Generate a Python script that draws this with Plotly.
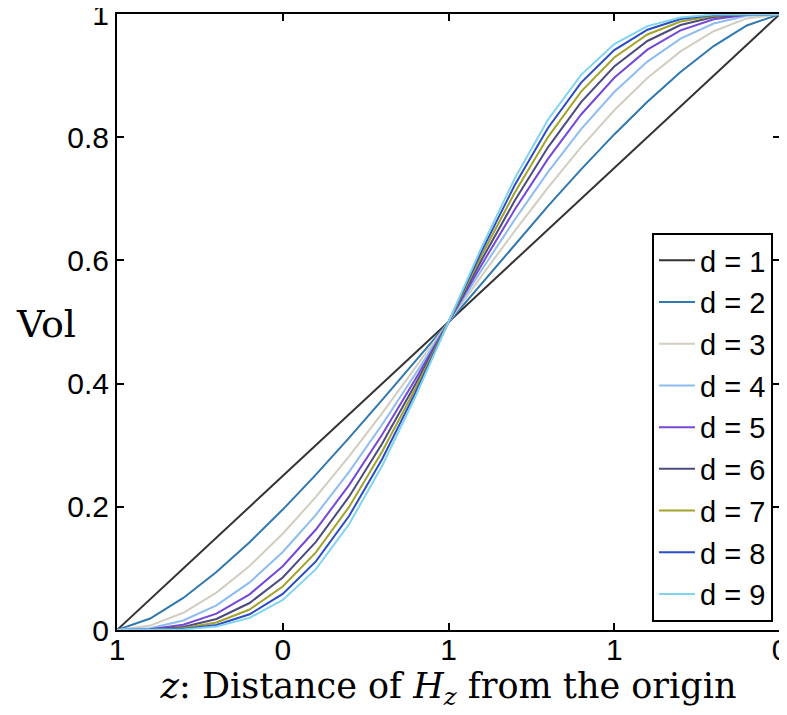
import plotly.graph_objects as go

# z positions, -1 .. 1 in steps of 0.1
z = [-1.0, -0.9, -0.8, -0.7, -0.6, -0.5, -0.4, -0.3, -0.2, -0.1, 0.0,
     0.1, 0.2, 0.3, 0.4, 0.5, 0.6, 0.7, 0.8, 0.9, 1.0]

vol_d1 = [0.0, 0.05, 0.1, 0.15, 0.2, 0.25, 0.3, 0.35, 0.4, 0.45, 0.5,
          0.55, 0.6, 0.65, 0.7, 0.75, 0.8, 0.85, 0.9, 0.95, 1.0]
vol_d2 = [0.0, 0.0187, 0.0520, 0.0941, 0.1424, 0.1955, 0.2523, 0.3119, 0.3735, 0.4364, 0.5,
          0.5636, 0.6265, 0.6881, 0.7477, 0.8045, 0.8576, 0.9059, 0.9480, 0.9813, 1.0]
vol_d3 = [0.0, 0.0072, 0.0280, 0.0607, 0.1040, 0.1562, 0.2160, 0.2817, 0.3520, 0.4252, 0.5,
          0.5748, 0.6480, 0.7183, 0.7840, 0.8438, 0.8960, 0.9393, 0.9720, 0.9928, 1.0]
vol_d4 = [0.0, 0.0029, 0.0154, 0.0400, 0.0772, 0.1266, 0.1870, 0.2566, 0.3336, 0.4155, 0.5,
          0.5845, 0.6664, 0.7434, 0.8130, 0.8734, 0.9228, 0.9600, 0.9846, 0.9971, 1.0]
vol_d5 = [0.0, 0.0012, 0.0086, 0.0266, 0.0579, 0.1035, 0.1631, 0.2352, 0.3174, 0.4069, 0.5,
          0.5931, 0.6826, 0.7648, 0.8369, 0.8965, 0.9421, 0.9734, 0.9914, 0.9988, 1.0]
vol_d6 = [0.0, 0.0005, 0.0048, 0.0179, 0.0438, 0.0852, 0.1431, 0.2164, 0.3029, 0.3990, 0.5,
          0.6010, 0.6971, 0.7836, 0.8569, 0.9148, 0.9562, 0.9821, 0.9952, 0.9995, 1.0]
vol_d7 = [0.0, 0.0002, 0.0027, 0.0121, 0.0333, 0.0706, 0.1260, 0.1998, 0.2898, 0.3917, 0.5,
          0.6083, 0.7102, 0.8002, 0.8740, 0.9294, 0.9667, 0.9879, 0.9973, 0.9998, 1.0]
vol_d8 = [0.0, 0.0001, 0.0015, 0.0082, 0.0255, 0.0586, 0.1114, 0.1850, 0.2777, 0.3849, 0.5,
          0.6151, 0.7223, 0.8150, 0.8886, 0.9414, 0.9745, 0.9918, 0.9985, 0.9999, 1.0]
vol_d9 = [0.0, 0.0000, 0.0009, 0.0056, 0.0196, 0.0489, 0.0988, 0.1717, 0.2666, 0.3786, 0.5,
          0.6214, 0.7334, 0.8283, 0.9012, 0.9511, 0.9804, 0.9944, 0.9991, 1.0000, 1.0]

series_names = ["d = 1", "d = 2", "d = 3", "d = 4", "d = 5", "d = 6", "d = 7", "d = 8", "d = 9"]
series_vals = [vol_d1, vol_d2, vol_d3, vol_d4, vol_d5, vol_d6, vol_d7, vol_d8, vol_d9]
colors = ["#333333", "#2f78b0", "#d2cdc0", "#8dbdf0", "#7448d8",
          "#4b4b80", "#a3a32a", "#2b4cc4", "#80d4f0"]

x_tickvals = [-1, -0.5, 0, 0.5, 1]
x_ticktext = ["1", "0", "1", "1", "0"]
y_tickvals = [0, 0.2, 0.4, 0.6, 0.8, 1]
y_ticktext = ["0", "0.2", "0.4", "0.6", "0.8", "1"]

fig = go.Figure()
for i, (name, vals) in enumerate(zip(series_names, series_vals)):
    fig.add_trace(go.Scatter(x=z, y=vals, mode="lines", name=name,
                             legendgroup=name,
                             line=dict(color=colors[i], width=2)))

tick_font = dict(family="Liberation Sans, Arial, sans-serif", size=30, color="black")
axis_common = dict(showgrid=False, zeroline=False, showline=True, linecolor="black",
                   linewidth=2, mirror="ticks", ticks="inside", ticklen=7,
                   tickwidth=1.5, tickcolor="black", tickfont=tick_font,
                   automargin=False, ticklabeloverflow="allow")

# the page body adds an 8px offset, so the figure is 8px smaller and margins shifted
fig.update_layout(
    width=779, height=707,
    margin=dict(l=109, r=7, t=6, b=85),
    plot_bgcolor="white", paper_bgcolor="white",
    xaxis=dict(range=[-1, 1], tickvals=x_tickvals, ticktext=x_ticktext,
               ticklabelstandoff=-8,
               title=dict(text="<i>z</i>: Distance of <i>H</i><sub><i>z</i></sub> from the origin",
                          font=dict(family="DejaVu Serif, Liberation Serif, serif", size=35,
                                    color="black"),
                          standoff=0),
               **axis_common),
    yaxis=dict(range=[0, 1], tickvals=y_tickvals, ticktext=y_ticktext, **axis_common),
    legend=dict(x=0.9894, y=0.013, xanchor="right", yanchor="bottom",
                bgcolor="white", bordercolor="black", borderwidth=2,
                font=dict(family="Liberation Sans, Arial, sans-serif", size=29, color="black"),
                tracegroupgap=1, itemwidth=36),
    annotations=[dict(text="Vol", xref="paper", yref="paper", x=-0.107, y=0.497,
                      xanchor="center", yanchor="middle", showarrow=False,
                      font=dict(family="DejaVu Serif, Liberation Serif, serif", size=38,
                                color="black"))],
)

fig.write_html("out.html")
